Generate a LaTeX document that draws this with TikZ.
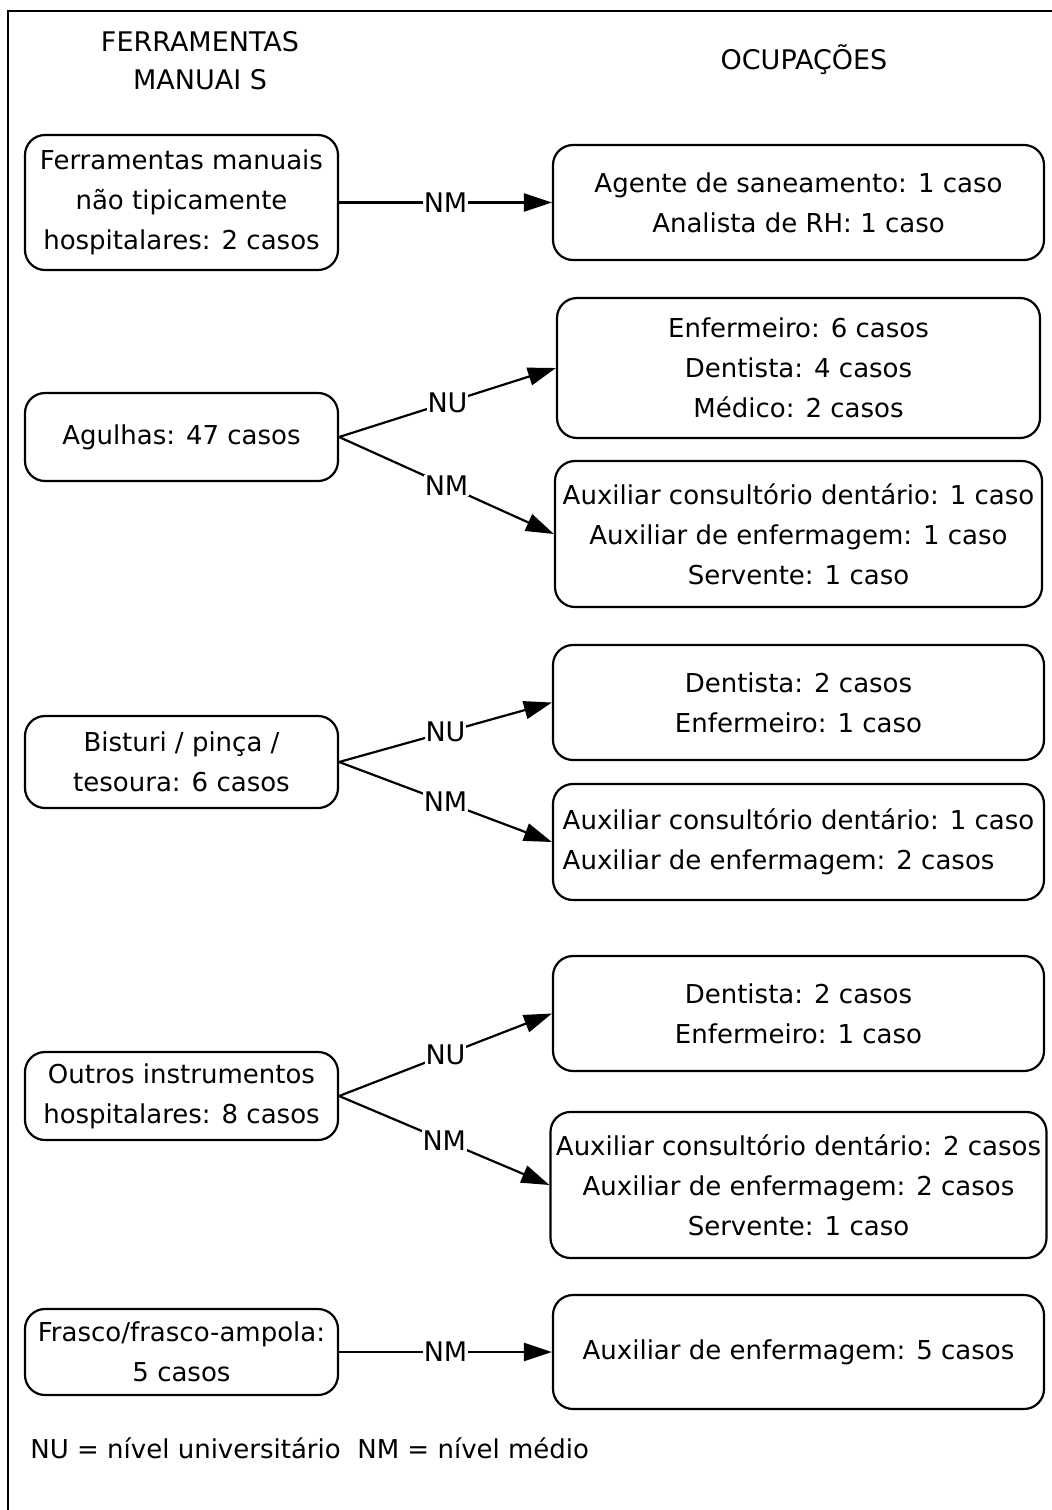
\documentclass[tikz,border=0pt]{standalone}
\usepackage{fontspec}
\setmainfont{DejaVu Sans}
\usetikzlibrary{arrows.meta}

\begin{document}
\begin{tikzpicture}[x=1pt,y=-1pt,line width=2.2pt,font=\fontsize{26}{40}\selectfont]
      \tikzstyle{tool}=[draw, rounded corners=20pt, minimum width=313pt, align=center, inner sep=0pt]
      \tikzstyle{occup}=[draw, rounded corners=20pt, inner sep=0pt]
      \tikzstyle{level}=[fill=white, inner sep=1pt, font=\fontsize{27}{40}\selectfont]
      \tikzstyle{title}=[align=center, font=\fontsize{27}{38}\selectfont]
      \useasboundingbox (0,0) rectangle (1052,1510);
      \draw (1052,11) -- (8,11) -- (8,1510);

      \node[title] (T-tools) at (200,61) {FERRAMENTAS\\MANUAI S};
      \node[title] (T-occ) at (804,60) {OCUPAÇÕES};

      % ferramentas
      \foreach \name/\txt/\y/\h in {ferr/{Ferramentas manuais\\não tipicamente\\hospitalares: 2 casos}/202.5/135,
          agu/{Agulhas: 47 casos}/437/88, bis/{Bisturi / pinça /\\tesoura: 6 casos}/762/92,
          outr/{Outros instrumentos\\hospitalares: 8 casos}/1096/88, fras/{Frasco/frasco-ampola:\\5 casos}/1352/86}
        \node[tool, minimum height=\h] (G-\name) at (181.5,\y) {\txt};

      % ocupacoes
      \foreach \name/\txt/\y/\w/\h/\al in {agsan/{Agente de saneamento: 1 caso\\Analista de RH: 1 caso}/202.5/491/115/center,
          agunu/{Enfermeiro: 6 casos\\Dentista: 4 casos\\Médico: 2 casos}/368/483/140/center,
          agunm/{Auxiliar consultório dentário: 1 caso\\Auxiliar de enfermagem: 1 caso\\Servente: 1 caso}/534/487/146/center,
          bisnu/{Dentista: 2 casos\\Enfermeiro: 1 caso}/702.5/491/115/center,
          bisnm/{Auxiliar consultório dentário: 1 caso\\Auxiliar de enfermagem: 2 casos}/842/491/116/left,
          outnu/{Dentista: 2 casos\\Enfermeiro: 1 caso}/1013.5/491/115/center,
          outnm/{Auxiliar consultório dentário: 2 casos\\Auxiliar de enfermagem: 2 casos\\Servente: 1 caso}/1185/496/146/center,
          frasnm/{Auxiliar de enfermagem: 5 casos}/1352/491/114/center}
        \node[occup, minimum width=\w, minimum height=\h, align/.expand once=\al] (G-\name) at (798.5,\y) {\txt};

      \foreach \from/\to/\lab in {ferr/agsan/NM, agu/agunu/NU, agu/agunm/NM, bis/bisnu/NU, bis/bisnm/NM,
          outr/outnu/NU, outr/outnm/NM, fras/frasnm/NM}
        \draw[-{Triangle[length=28pt,width=18pt]}] (G-\from.east) -- node[level] {\lab} (G-\to.west);

      \node[anchor=west] (note) at (26,1448) {NU = nível universitário\ \ NM = nível médio};
    \end{tikzpicture}
\end{document}
